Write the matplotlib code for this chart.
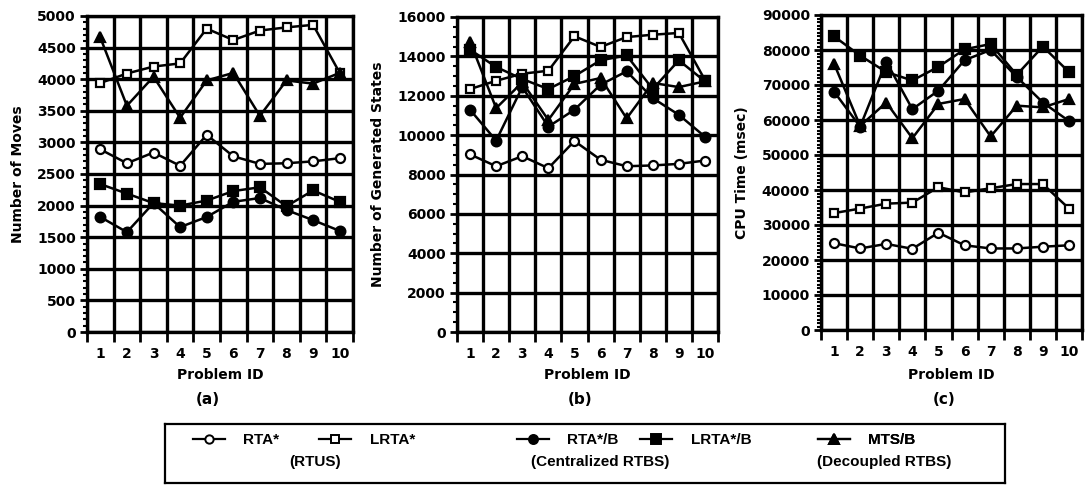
import numpy as np
import matplotlib
matplotlib.use("Agg")
import matplotlib.pyplot as plt
from matplotlib.lines import Line2D
from matplotlib.ticker import MultipleLocator

plt.rcParams["font.family"] = "DejaVu Sans"
plt.rcParams["font.weight"] = "bold"

# Data
problem_ids = [1, 2, 3, 4, 5, 6, 7, 8, 9, 10]

moves_rta = [2890, 2670, 2840, 2630, 3120, 2780, 2660, 2670, 2700, 2750]
moves_lrta = [3940, 4090, 4200, 4250, 4800, 4620, 4770, 4820, 4860, 4100]
moves_rtab = [1820, 1580, 2040, 1660, 1820, 2060, 2120, 1930, 1770, 1600]
moves_lrtab = [2340, 2190, 2040, 2000, 2080, 2230, 2290, 1990, 2240, 2060]
moves_mtsb = [4660, 3580, 4040, 3390, 3980, 4100, 3420, 3980, 3930, 4100]

states_rta = [9020, 8420, 8930, 8320, 9700, 8750, 8420, 8460, 8540, 8710]
states_lrta = [12340, 12760, 13120, 13270, 15020, 14480, 14980, 15100, 15190, 12800]
states_rtab = [11290, 9720, 12440, 10430, 11290, 12560, 13240, 11880, 11030, 9920]
states_lrtab = [14340, 13460, 12850, 12340, 13000, 13800, 14050, 12340, 13800, 12730]
states_mtsb = [14750, 11370, 12680, 10770, 12600, 12900, 10850, 12650, 12440, 12730]

cpu_rta = [24800, 23300, 24600, 23200, 27800, 24200, 23300, 23300, 23800, 24200]
cpu_lrta = [33400, 34700, 36100, 36400, 40800, 39300, 40500, 41700, 41700, 34700]
cpu_rtab = [68100, 58100, 76700, 63100, 68400, 77100, 80000, 72300, 65000, 59700]
cpu_lrtab = [83900, 78400, 73700, 71300, 75200, 80200, 81700, 72900, 81000, 73700]
cpu_mtsb = [76100, 58300, 65000, 54800, 64600, 66000, 55300, 64100, 63600, 66000]

series_labels = ["RTA*", "LRTA*", "RTA*/B", "LRTA*/B", "MTS/B"]
group_labels = ["(RTUS)", "(Centralized RTBS)", "(Decoupled RTBS)"]

# marker, face colour, size for each series
styles = [
    ("o", "white", 6.5),
    ("s", "white", 6.0),
    ("o", "black", 7.0),
    ("s", "black", 7.0),
    ("^", "black", 7.5),
]

W, H = 1085, 491
fig = plt.figure(figsize=(W / 100, H / 100), dpi=100)


def px_rect(left, top, right, bottom):
    return [left / W, 1 - bottom / H, (right - left) / W, (bottom - top) / H]


def draw_panel(rect, data, ymax, ystep, yminor, ylabel, ylabel_x, tag, tag_x):
    ax = fig.add_axes(px_rect(*rect))
    for vals, (m, fc, ms) in zip(data, styles):
        ax.plot(problem_ids, vals, color="black", lw=1.8, marker=m, ms=ms,
                mfc=fc, mec="black", mew=1.6, zorder=3)
    ax.set_xlim(0.5, 10.5)
    ax.set_ylim(0, ymax)

    # x: labels at category centres, ticks/grid at category borders
    ax.set_xticks(problem_ids)
    ax.set_xticks(np.arange(0.5, 11, 1), minor=True)
    ax.tick_params(axis="x", which="major", length=0, pad=11, labelsize=10)
    ax.tick_params(axis="x", which="minor", direction="out", length=7, width=2)
    ax.grid(axis="x", which="minor", color="black", lw=2.4)

    ax.set_yticks(np.arange(0, ymax + 1, ystep))
    ax.yaxis.set_minor_locator(MultipleLocator(yminor))
    ax.tick_params(axis="y", which="major", direction="out", length=5, width=2,
                   pad=3, labelsize=10)
    ax.tick_params(axis="y", which="minor", direction="out", length=3, width=1.5)
    ax.grid(axis="y", which="major", color="black", lw=2.4)
    ax.set_axisbelow(True)
    for sp in ax.spines.values():
        sp.set_linewidth(2.4)

    cx = (rect[0] + rect[2]) / 2
    fig.text(ylabel_x / W, 1 - ((rect[1] + rect[3]) / 2) / H, ylabel,
             rotation=90, ha="center", va="center", fontsize=10)
    fig.text(cx / W, 1 - 375 / H, "Problem ID", ha="center", va="center", fontsize=10)
    fig.text(tag_x / W, 1 - 400 / H, tag, ha="center", va="center", fontsize=11)
    return ax


draw_panel((87, 16, 353, 332), [moves_rta, moves_lrta, moves_rtab, moves_lrtab, moves_mtsb],
           5000, 500, 100, "Number of Moves", 18, "(a)", 208)
draw_panel((457, 17, 718, 332), [states_rta, states_lrta, states_rtab, states_lrtab, states_mtsb],
           16000, 2000, 500, "Number of Generated States", 378, "(b)", 580)
draw_panel((821, 15, 1082, 330), [cpu_rta, cpu_lrta, cpu_rtab, cpu_lrtab, cpu_mtsb],
           90000, 10000, 1000, "CPU Time (msec)", 742, "(c)", 944)

# Legend box
leg_ax = fig.add_axes(px_rect(165, 424, 1005, 483))
leg_ax.set_xticks([])
leg_ax.set_yticks([])
leg_ax.set_xlim(0, 1)
leg_ax.set_ylim(0, 1)
for sp in leg_ax.spines.values():
    sp.set_linewidth(1.6)

handles = [Line2D([], [], color="black", lw=1.6, marker=m, ms=ms - 0.5, mfc=fc,
                  mec="black", mew=1.4) for (m, fc, ms) in styles]

leg_font = {"family": ["Liberation Sans Narrow", "Liberation Sans"], "weight": "bold", "size": 11}
groups = [([0, 1], 193, 2.6), ([2, 3], 517, 1.4), ([4], 818, 1.0)]
for idx, x0, colsp in groups:
    lg = leg_ax.legend([handles[i] for i in idx], [series_labels[i] for i in idx],
                       loc="center left", bbox_to_anchor=(x0 / W, 1 - 440 / H),
                       bbox_transform=fig.transFigure, ncol=len(idx), frameon=False,
                       borderpad=0, borderaxespad=0, handlelength=2.1,
                       handletextpad=1.2, columnspacing=colsp, prop=leg_font)
    leg_ax.add_artist(lg)

for text, x in zip(group_labels, [315, 600, 884]):
    fig.text(x / W, 1 - 462 / H, text, ha="center", va="center",
             family=["Liberation Sans Narrow", "Liberation Sans"], weight="bold", fontsize=11)

plt.savefig("out.png", dpi=100)
